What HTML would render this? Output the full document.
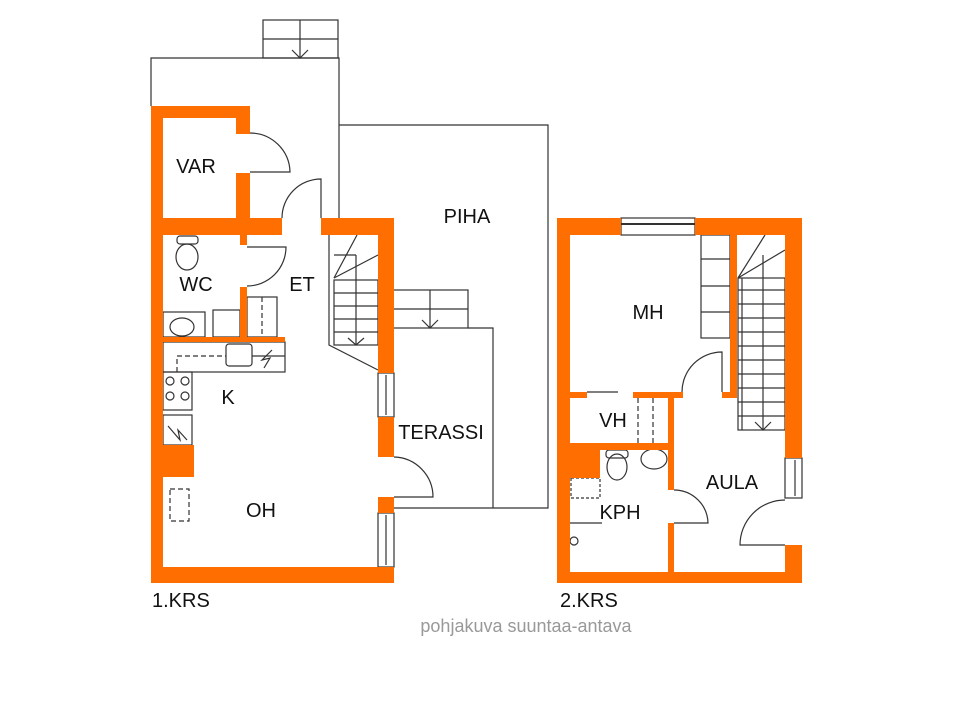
<!DOCTYPE html>
<html><head><meta charset="utf-8"><style>
html,body{margin:0;padding:0;background:#fff;}
svg{display:block;}
text{font-family:"Liberation Sans",Arial,sans-serif;fill:#111;}
</style></head><body>
<svg width="960" height="720" viewBox="0 0 960 720" xmlns="http://www.w3.org/2000/svg">
<g fill="none" stroke="#333" stroke-width="1.2">
 <polyline points="151,106 151,58 339,58 339,218"/>
 <rect x="263" y="20" width="75" height="38"/>
 <line x1="300" y1="20" x2="300" y2="58"/><line x1="263" y1="39" x2="338" y2="39"/>
 <polyline points="292,50 300,58 308,50"/>
 <polyline points="339,125 548,125 548,508 394,508"/>
 <rect x="393" y="290" width="75" height="38"/>
 <line x1="430" y1="290" x2="430" y2="328"/><line x1="393" y1="309" x2="468" y2="309"/>
 <polyline points="422,320 430,328 438,320"/>
 <polyline points="468,328 493,328 493,508"/>
 <path d="M250,172 H290 A40,40 0 0 0 250,133"/>
 <path d="M321,218 V179 A39,39 0 0 0 282,218"/>
 <path d="M247,247 H286 A39,39 0 0 1 247,286"/>
 <path d="M394,497 H433 A40,40 0 0 0 394,457"/>
 <rect x="378" y="373" width="16" height="44"/><line x1="386" y1="375" x2="386" y2="415"/>
 <rect x="378" y="513" width="16" height="54"/><line x1="386" y1="515" x2="386" y2="565"/>
 <polyline points="329,235 329,345 378,370"/>
 <rect x="334" y="280" width="44" height="65"/>
 <line x1="334" y1="293" x2="378" y2="293"/><line x1="334" y1="306" x2="378" y2="306"/>
 <line x1="334" y1="319" x2="378" y2="319"/><line x1="334" y1="332" x2="378" y2="332"/>
 <line x1="356" y1="255" x2="356" y2="345"/>
 <line x1="334" y1="255" x2="356" y2="255"/>
 <line x1="334" y1="278" x2="357" y2="235"/><line x1="334" y1="278" x2="378" y2="255"/>
 <polyline points="348,338 356,345 364,338"/>
 <ellipse cx="187" cy="257" rx="11" ry="13"/><rect x="177" y="236" width="21" height="8" rx="3"/>
 <rect x="163" y="312" width="42" height="25"/><ellipse cx="182" cy="327" rx="12" ry="9"/>
 <rect x="213" y="310" width="27" height="27"/>
 <rect x="247" y="297" width="30" height="40"/>
 <line x1="262" y1="297" x2="262" y2="337" stroke-dasharray="5,3"/>
 <rect x="163" y="342" width="122" height="30"/>
 <rect x="226" y="344" width="26" height="22" rx="3"/>
 <polyline points="177,372 177,356 226,356" stroke-dasharray="5,3"/>
 <line x1="252" y1="356" x2="285" y2="356"/>
 <path d="M272,350 L262,360 L270,358 L264,368 M272,350 L266,356"/>
 <rect x="163" y="372" width="29" height="38"/>
 <circle cx="170" cy="381" r="4"/><circle cx="185" cy="381" r="4"/><circle cx="170" cy="396" r="4"/><circle cx="185" cy="396" r="4"/>
 <rect x="163" y="415" width="29" height="30"/>
 <path d="M168,426 L180,440 L178,430 L187,440"/>
 <rect x="170" y="489" width="19" height="32" stroke-dasharray="5,3"/>
 <rect x="621" y="218" width="74" height="17"/><line x1="621" y1="224" x2="695" y2="224" stroke-width="2"/>
 <rect x="785" y="458" width="17" height="40"/><line x1="795" y1="460" x2="795" y2="496"/>
 <path d="M785,545 H740 A45,45 0 0 1 785,500"/>
 <path d="M722,392 V352 A40,40 0 0 0 682,392"/>
 <path d="M674,523 H708 A34,34 0 0 0 674,490"/>
 <path d="M570,523 H602"/>
 <line x1="587" y1="392" x2="618" y2="392"/>
 <rect x="701" y="235" width="29" height="103"/>
 <line x1="701" y1="259" x2="730" y2="259"/><line x1="701" y1="286" x2="730" y2="286"/><line x1="701" y1="312" x2="730" y2="312"/>
 <rect x="738" y="278" width="47" height="152"/>
 <line x1="742" y1="278" x2="742" y2="430"/>
 <line x1="738" y1="290" x2="785" y2="290"/><line x1="738" y1="304" x2="785" y2="304"/><line x1="738" y1="318" x2="785" y2="318"/>
 <line x1="738" y1="332" x2="785" y2="332"/><line x1="738" y1="346" x2="785" y2="346"/><line x1="738" y1="360" x2="785" y2="360"/>
 <line x1="738" y1="374" x2="785" y2="374"/><line x1="738" y1="388" x2="785" y2="388"/><line x1="738" y1="402" x2="785" y2="402"/>
 <line x1="738" y1="416" x2="785" y2="416"/>
 <line x1="763" y1="255" x2="763" y2="430"/>
 <line x1="738" y1="278" x2="765" y2="235"/><line x1="738" y1="278" x2="785" y2="250"/>
 <polyline points="755,422 763,430 771,422"/>
 <line x1="638" y1="398" x2="638" y2="443" stroke-dasharray="5,3"/><line x1="653" y1="398" x2="653" y2="443" stroke-dasharray="5,3"/>
 <ellipse cx="617" cy="467" rx="10" ry="13"/><rect x="606" y="450" width="22" height="8" rx="3"/>
 <ellipse cx="654" cy="459" rx="13" ry="10"/>
 <rect x="571" y="478" width="29" height="20" stroke-dasharray="3,2"/>
 <circle cx="574" cy="541" r="4"/>
</g>
<g fill="#FF6E00">
 <rect x="151" y="106" width="12" height="477"/>
 <rect x="151" y="106" width="99" height="12"/>
 <rect x="236" y="106" width="14" height="28"/>
 <rect x="236" y="173" width="14" height="45"/>
 <rect x="151" y="218" width="131" height="17"/>
 <rect x="321" y="218" width="73" height="17"/>
 <rect x="378" y="218" width="16" height="155"/>
 <rect x="378" y="417" width="16" height="40"/>
 <rect x="378" y="497" width="16" height="16"/>
 <rect x="151" y="567" width="243" height="16"/>
 <rect x="163" y="445" width="31" height="32"/>
 <rect x="240" y="235" width="7" height="10"/>
 <rect x="240" y="287" width="7" height="52"/>
 <rect x="163" y="337" width="122" height="5"/>
 <rect x="557" y="218" width="13" height="365"/>
 <rect x="557" y="218" width="64" height="17"/>
 <rect x="695" y="218" width="107" height="17"/>
 <rect x="785" y="218" width="17" height="240"/>
 <rect x="785" y="545" width="17" height="38"/>
 <rect x="557" y="572" width="245" height="11"/>
 <rect x="730" y="235" width="7" height="163"/>
 <rect x="722" y="392" width="15" height="6"/>
 <rect x="570" y="392" width="17" height="6"/>
 <rect x="633" y="392" width="50" height="6"/>
 <rect x="570" y="443" width="104" height="7"/>
 <rect x="570" y="450" width="30" height="28"/>
 <rect x="668" y="398" width="6" height="92"/>
 <rect x="668" y="523" width="6" height="49"/>
</g>
<g font-size="20" text-anchor="middle">
 <text x="196" y="173">VAR</text>
 <text x="196" y="291">WC</text>
 <text x="302" y="291">ET</text>
 <text x="228" y="404">K</text>
 <text x="261" y="517">OH</text>
 <text x="467" y="223">PIHA</text>
 <text x="441" y="439">TERASSI</text>
 <text x="648" y="319">MH</text>
 <text x="613" y="427">VH</text>
 <text x="620" y="519">KPH</text>
 <text x="732" y="489">AULA</text>
</g>
<g font-size="20">
 <text x="152" y="607">1.KRS</text>
 <text x="560" y="607">2.KRS</text>
</g>
<text x="526" y="632" font-size="18" text-anchor="middle" style="fill:#999">pohjakuva suuntaa-antava</text>
</svg>
</body></html>
